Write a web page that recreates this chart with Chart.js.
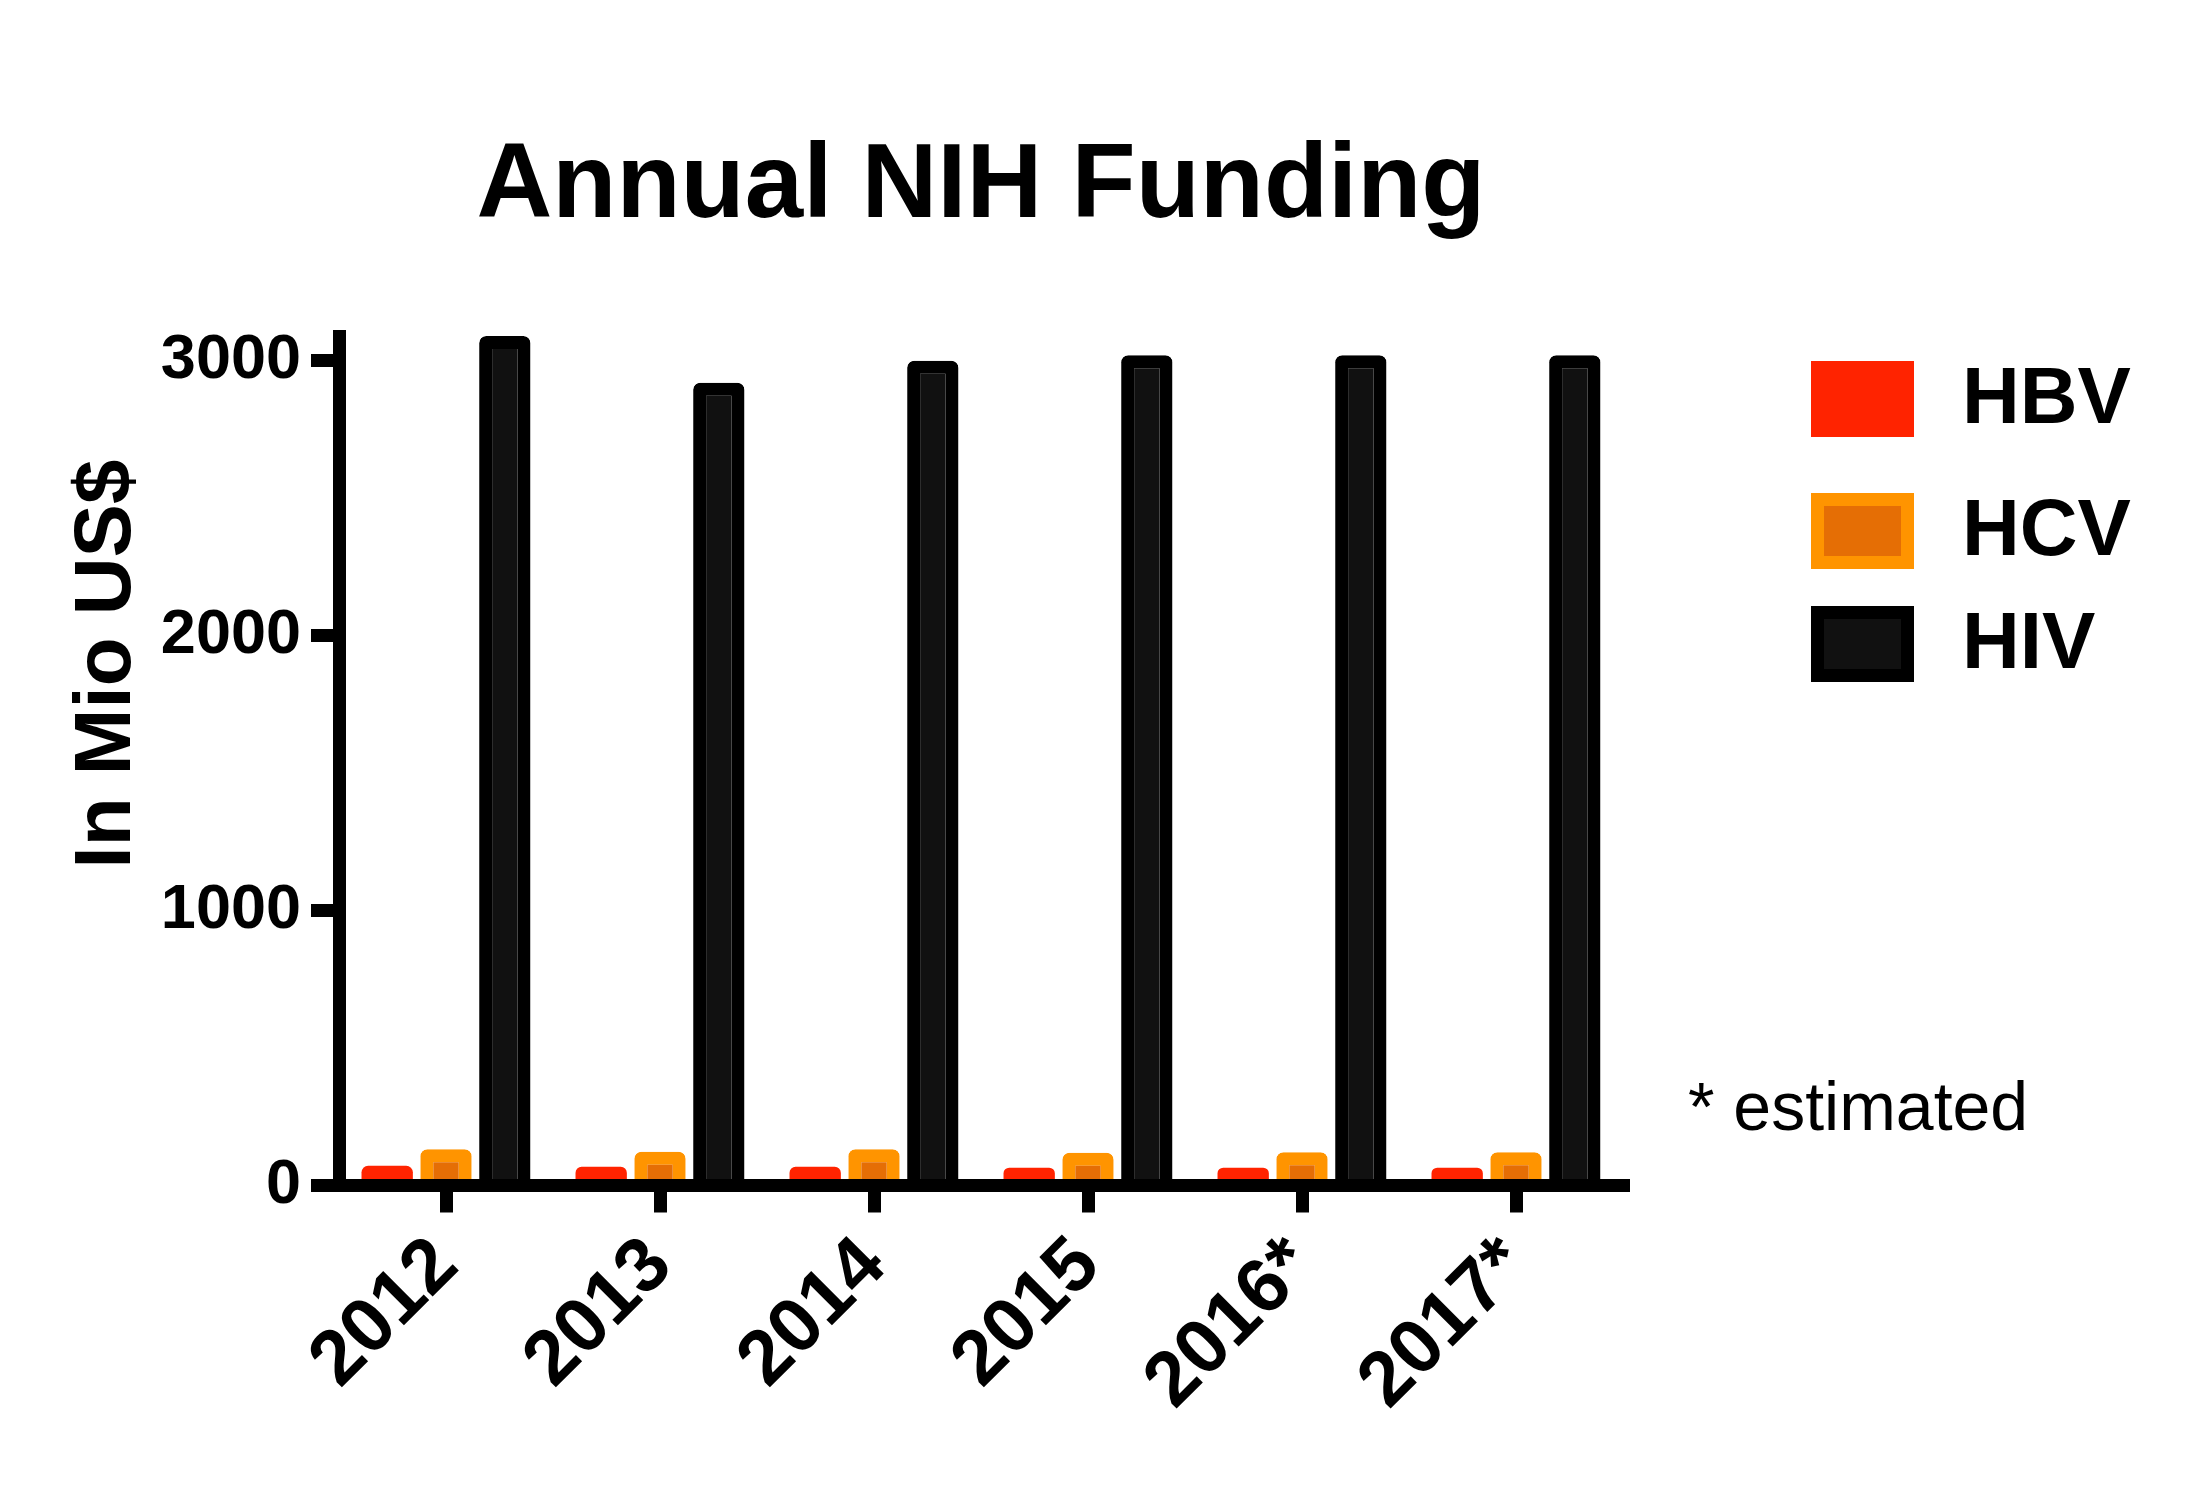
<!DOCTYPE html>
<html>
<head>
<meta charset="utf-8">
<title>Annual NIH Funding</title>
<script src="https://cdn.jsdelivr.net/npm/chart.js@4"></script>
<style>
  html, body { margin: 0; padding: 0; background: #fff; }
  #wrap { position: relative; width: 2193px; height: 1503px; }
</style>
</head>
<body>
<div id="wrap"><canvas id="chart"></canvas></div>
<script>
// values (Mio US$)
const years = ["2012", "2013", "2014", "2015", "2016*", "2017*"];
const hbv = [72, 68, 68, 65, 65, 65];
const hcv = [132, 123, 132, 119, 121, 121];
const hiv = [3090, 2920, 3000, 3020, 3020, 3020];
const yTicks = [0, 1000, 2000, 3000];

const FONT = "'Liberation Sans', Arial, Helvetica, sans-serif";

// title, y title, legend and footnote drawn by hand
const extras = {
  id: "extras",
  afterDraw(chart) {
    const ctx = chart.ctx;
    ctx.save();
    ctx.fillStyle = "#000";

    ctx.font = "bold 105px " + FONT;
    ctx.textAlign = "center";
    ctx.textBaseline = "alphabetic";
    ctx.fillText("Annual NIH Funding", 981, 217);

    ctx.save();
    ctx.translate(130, 664);
    ctx.rotate(-Math.PI / 2);
    ctx.font = "bold 80px " + FONT;
    ctx.fillText("In Mio US$", 0, 0);
    ctx.restore();

    // legend
    const tops = [361, 493, 606];
    chart.data.datasets.forEach((ds, i) => {
      const x = 1811, y = tops[i], w = 103, h = 76, b = 13;
      ctx.fillStyle = ds.borderColor;
      ctx.fillRect(x, y, w, h);
      ctx.fillStyle = ds.backgroundColor;
      ctx.fillRect(x + b, y + b, w - 2 * b, h - 2 * b);
      ctx.fillStyle = "#000";
      ctx.font = "bold 80px " + FONT;
      ctx.textAlign = "left";
      ctx.textBaseline = "middle";
      ctx.fillText(ds.label, 1962, y + h / 2 + 2);
    });

    ctx.font = "68px " + FONT;
    ctx.textAlign = "left";
    ctx.textBaseline = "alphabetic";
    ctx.fillText("* estimated", 1688, 1130);
    ctx.restore();
  }
};

const barRadius = { topLeft: 7, topRight: 7 };

new Chart(document.getElementById("chart"), {
  type: "bar",
  data: {
    labels: years,
    datasets: [
      { label: "HBV", data: hbv, backgroundColor: "#FF2300", borderColor: "#FF2300",
        borderWidth: 0, borderRadius: barRadius },
      { label: "HCV", data: hcv, backgroundColor: "#E56E05", borderColor: "#FF9400",
        borderWidth: 13, borderRadius: barRadius },
      { label: "HIV", data: hiv, backgroundColor: "#111111", borderColor: "#000000",
        borderWidth: 13, borderRadius: barRadius }
    ]
  },
  options: {
    responsive: true,
    maintainAspectRatio: false,
    animation: false,
    devicePixelRatio: 1,
    categoryPercentage: 0.8245,
    barPercentage: 0.873,
    layout: { padding: { top: 336, right: 570, bottom: 0, left: 0 } },
    plugins: {
      legend: { display: false },
      title: { display: false },
      tooltip: { enabled: false }
    },
    scales: {
      x: {
        afterFit(scale) { scale.height = 317.5; },
        border: { display: true, width: 13, color: "#000" },
        grid: { offset: false, drawOnChartArea: false, drawTicks: true, tickLength: 27,
                lineWidth: 13, color: "#000" },
        ticks: {
          autoSkip: false, maxRotation: 45, minRotation: 45, padding: 8,
          color: "#000", font: { family: FONT, size: 77, weight: "bold" }
        }
      },
      y: {
        min: yTicks[0],
        max: 3090,
        afterFit(scale) { scale.width = 339; },
        afterBuildTicks(scale) { scale.ticks = yTicks.map(v => ({ value: v })); },
        border: { display: true, width: 13, color: "#000" },
        grid: { drawOnChartArea: false, drawTicks: true, tickLength: 28,
                lineWidth: 13, color: "#000" },
        ticks: {
          padding: 10, color: "#000",
          font: { family: FONT, size: 63, weight: "bold" },
          callback: v => String(v)
        }
      }
    }
  },
  plugins: [extras]
});
</script>
</body>
</html>
